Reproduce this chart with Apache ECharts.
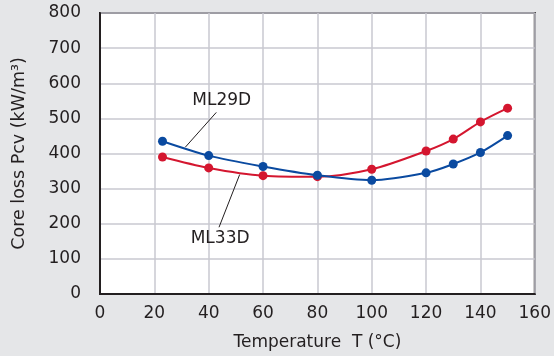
<!DOCTYPE html>
<html>
<head>
<meta charset="utf-8">
<script src="https://cdn.jsdelivr.net/npm/echarts@6/dist/echarts.min.js"></script>
<style>
html,body{margin:0;padding:0;background:#e5e6e8;}
#c{width:554px;height:356px;}
</style>
</head>
<body>
<div id="c"></div>
<script>
var temps = [23, 40, 60, 80, 100, 120, 130, 140, 150];
var ml29d = [435, 394, 363, 338, 324, 345, 370, 403, 451];
var ml33d = [390, 359, 337, 334, 355, 407, 441, 490, 529];
var seriesNames = ['ML29D', 'ML33D'];
// annotation: label anchor [x, y] and leader line endpoints in data units
var ml29dLabel = [44.8, 551];
var ml29dLeader = [[42.8, 517], [31.4, 418]];
var ml33dLabel = [44.2, 157];
var ml33dLeader = [[43.8, 190], [51.4, 340]];

var FONT = 'DejaVu Sans';
function pairs(xs, ys){ return xs.map(function(x,i){ return [x, ys[i]]; }); }

function annot(labelPos, leader, text){
  return {
    markLine: {
      silent: true, symbol: ['none','none'],
      lineStyle: {color: '#231f20', width: 1, type: 'solid'},
      label: {show: false},
      data: [[{coord: leader[0]}, {coord: leader[1]}]]
    },
    markPoint: {
      silent: true, symbol: 'circle', symbolSize: 0,
      label: {show: true, formatter: text, color: '#231f20', fontFamily: FONT, fontSize: 17, position: 'inside'},
      data: [{coord: labelPos}]
    }
  };
}

var a1 = annot(ml29dLabel, ml29dLeader, seriesNames[0]);
var a2 = annot(ml33dLabel, ml33dLeader, seriesNames[1]);

var chart = echarts.init(document.getElementById('c'));
chart.setOption({
  backgroundColor: '#e5e6e8',
  animation: false,
  grid: {left: 100, right: 18, top: 13, bottom: 59, show: true, backgroundColor: '#ffffff', borderColor: '#231f20', borderWidth: 2},
  xAxis: {
    type: 'value', min: 0, max: 160, interval: 20,
    name: 'Temperature  T (\u00b0C)', nameLocation: 'middle', nameGap: 40,
    nameTextStyle: {fontFamily: FONT, fontSize: 17, color: '#231f20'},
    axisLine: {show: true, lineStyle: {color: '#231f20', width: 2}},
    axisTick: {show: false},
    axisLabel: {fontFamily: FONT, fontSize: 17, color: '#231f20', margin: 11},
    splitLine: {show: true, lineStyle: {color: '#c8c9d0', width: 1.5}}
  },
  yAxis: {
    type: 'value', min: 0, max: 800, interval: 100,
    name: 'Core loss Pcv (kW/m\u00b3)', nameLocation: 'middle', nameGap: 72,
    nameTextStyle: {fontFamily: FONT, fontSize: 17.5, color: '#231f20'},
    axisLine: {show: true, lineStyle: {color: '#231f20', width: 2}},
    axisTick: {show: false},
    axisLabel: {fontFamily: FONT, fontSize: 17, color: '#231f20', margin: 19},
    splitLine: {show: true, lineStyle: {color: '#c8c9d0', width: 1.5}}
  },
  series: [
    {
      name: seriesNames[0], type: 'line', smooth: 0.3,
      data: pairs(temps, ml29d),
      symbol: 'circle', symbolSize: 9,
      lineStyle: {color: '#0a4aa0', width: 2},
      itemStyle: {color: '#0a4aa0'},
      markLine: a1.markLine, markPoint: a1.markPoint, z: 3
    },
    {
      name: seriesNames[1], type: 'line', smooth: 0.3,
      data: pairs(temps, ml33d),
      symbol: 'circle', symbolSize: 9,
      lineStyle: {color: '#d4162f', width: 2},
      itemStyle: {color: '#d4162f'},
      markLine: a2.markLine, markPoint: a2.markPoint, z: 2
    }
  ]
});
</script>
</body>
</html>
